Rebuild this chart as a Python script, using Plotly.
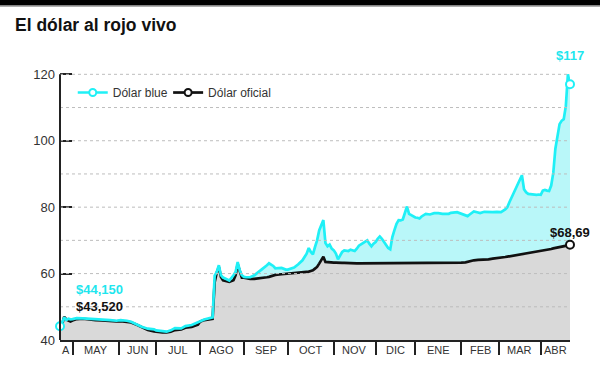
import math
import pandas as pd
import plotly.graph_objects as go

# ---------------- data ----------------
dates = [
    "2019-04-23", "2019-04-24", "2019-04-25", "2019-04-26", "2019-04-29", "2019-04-30",
    "2019-05-02", "2019-05-06", "2019-05-09", "2019-05-14", "2019-05-17", "2019-05-22", "2019-05-28", "2019-05-31",
    "2019-06-04", "2019-06-07", "2019-06-11", "2019-06-14", "2019-06-19", "2019-06-25", "2019-06-28",
    "2019-07-01", "2019-07-04", "2019-07-10", "2019-07-12", "2019-07-16", "2019-07-19", "2019-07-23", "2019-07-26", "2019-07-31",
    "2019-08-01", "2019-08-05", "2019-08-09", "2019-08-12", "2019-08-13", "2019-08-14", "2019-08-15", "2019-08-16",
    "2019-08-20", "2019-08-22", "2019-08-26", "2019-08-27", "2019-08-28", "2019-08-29", "2019-08-30",
    "2019-09-02", "2019-09-03", "2019-09-05", "2019-09-09", "2019-09-11", "2019-09-13", "2019-09-17", "2019-09-18",
    "2019-09-20", "2019-09-23", "2019-09-26", "2019-09-30",
    "2019-10-01", "2019-10-04", "2019-10-08", "2019-10-10", "2019-10-15", "2019-10-16", "2019-10-17", "2019-10-18",
    "2019-10-21", "2019-10-22", "2019-10-23", "2019-10-24", "2019-10-25", "2019-10-28", "2019-10-29", "2019-10-30", "2019-10-31",
    "2019-11-01", "2019-11-04", "2019-11-05", "2019-11-06", "2019-11-07", "2019-11-08", "2019-11-12", "2019-11-13",
    "2019-11-14", "2019-11-15", "2019-11-19", "2019-11-20", "2019-11-21", "2019-11-22", "2019-11-25", "2019-11-26",
    "2019-11-27", "2019-11-28", "2019-11-29",
    "2019-12-02", "2019-12-03", "2019-12-04", "2019-12-05", "2019-12-06", "2019-12-09", "2019-12-10", "2019-12-11",
    "2019-12-12", "2019-12-13", "2019-12-16", "2019-12-17", "2019-12-18", "2019-12-19", "2019-12-20", "2019-12-23",
    "2019-12-26", "2019-12-27", "2019-12-30",
    "2020-01-02", "2020-01-03", "2020-01-06", "2020-01-07", "2020-01-09", "2020-01-13", "2020-01-15", "2020-01-17",
    "2020-01-21", "2020-01-24", "2020-01-27", "2020-01-30",
    "2020-02-03", "2020-02-05", "2020-02-06", "2020-02-07", "2020-02-11", "2020-02-13", "2020-02-14", "2020-02-18",
    "2020-02-20", "2020-02-26", "2020-02-28",
    "2020-03-03", "2020-03-05", "2020-03-06", "2020-03-09", "2020-03-10", "2020-03-11", "2020-03-12", "2020-03-13",
    "2020-03-16", "2020-03-17", "2020-03-18", "2020-03-19", "2020-03-20", "2020-03-25", "2020-03-26", "2020-03-27",
    "2020-03-30", "2020-03-31",
    "2020-04-01", "2020-04-02", "2020-04-03", "2020-04-06", "2020-04-07", "2020-04-08", "2020-04-13", "2020-04-14",
    "2020-04-15", "2020-04-16", "2020-04-17", "2020-04-20", "2020-04-21", "2020-04-22", "2020-04-23",
]

dolar_blue = [
    44.15, 45.2, 46.8, 46.0, 46.4, 46.2,
    46.3, 46.6, 46.5, 46.4, 46.2, 46.3, 46.0, 45.8,
    46.0, 45.8, 45.5, 44.6, 44.0, 43.4, 43.2,
    42.9, 42.6, 42.5, 42.9, 43.6, 43.5, 44.2, 44.5, 45.3,
    45.8, 46.2, 46.8, 59.4, 60.5, 62.5, 59.5, 58.8,
    58.5, 57.9, 59.5, 60.5, 63.5, 61.0, 59.5,
    59.0, 58.9, 58.9, 59.5, 60.4, 61.5, 62.5, 63.1,
    62.3, 61.6, 61.7, 61.2,
    61.2, 61.8, 62.8, 64.0, 66.0, 67.7, 66.5, 65.8,
    68.0, 70.0, 73.0, 74.5, 76.1, 69.2, 68.2, 68.7, 67.5,
    67.0, 66.0, 64.3, 65.5, 66.5, 67.0, 66.8, 67.2,
    67.0, 66.8, 67.5, 68.4, 68.8, 69.2, 69.5, 70.0,
    69.0, 68.2, 69.0,
    69.5, 70.5, 71.2, 70.5, 69.5, 68.5, 67.7, 67.3,
    71.0, 73.1, 75.0, 76.1, 76.0, 76.3, 78.0, 80.2,
    78.0, 77.6, 77.1,
    76.9, 76.8, 76.6, 77.2, 78.0, 77.8, 78.2, 78.2,
    78.0, 78.0, 78.3, 78.5,
    78.0, 77.6, 77.3, 77.8, 78.7, 78.4, 78.2, 78.6,
    78.5, 78.5, 78.6,
    78.5, 79.3, 80.0, 81.5, 82.9, 84.0, 85.5, 86.9,
    88.0, 89.6, 85.4, 84.5, 84.0, 83.9, 83.7, 83.6,
    83.7, 83.8,
    83.7, 85.0, 85.2, 85.0, 84.9, 86.5, 90.3, 97.6,
    101.0, 105.0, 106.0, 106.5, 110.4, 120.0, 117.0,
]

dolar_oficial = [
    43.52, 44.6, 47.0, 46.2, 45.9, 45.6,
    45.9, 46.3, 46.4, 46.1, 46.0, 45.9, 45.7, 45.6,
    45.7, 45.5, 45.3, 44.5, 43.9, 43.0, 42.6,
    42.5, 42.3, 42.3, 42.5, 43.0, 43.2, 43.7, 43.9, 44.6,
    45.5, 46.0, 46.4, 57.4, 60.3, 62.0, 59.0, 58.0,
    57.8, 57.5, 58.0, 59.5, 62.8, 60.5, 58.8,
    58.8, 58.6, 58.4, 58.4, 58.5, 58.7, 58.9, 59.0,
    59.3, 59.6, 59.8, 59.9,
    60.0, 60.1, 60.3, 60.4, 60.5, 60.6, 60.8, 61.0,
    61.5, 62.0, 63.0, 64.0, 65.1, 63.5, 63.4, 63.3, 63.3,
    63.3, 63.3, 63.2, 63.2, 63.2, 63.2, 63.1, 63.1,
    63.1, 63.1, 63.1, 63.1, 63.1, 63.1, 63.1, 63.1,
    63.1, 63.1, 63.1,
    63.1, 63.1, 63.1, 63.1, 63.1, 63.1, 63.1, 63.1,
    63.1, 63.1, 63.1, 63.1, 63.1, 63.1, 63.1, 63.1,
    63.1, 63.1, 63.1,
    63.1, 63.1, 63.1, 63.1, 63.1, 63.1, 63.1, 63.1,
    63.1, 63.1, 63.1, 63.2,
    63.3, 63.4, 63.6, 63.7, 64.0, 64.1, 64.1, 64.2,
    64.3, 64.5, 64.6,
    64.8, 65.0, 65.1, 65.2, 65.3, 65.4, 65.5, 65.6,
    65.8, 65.9, 66.0, 66.1, 66.2, 66.4, 66.5, 66.6,
    66.7, 66.8,
    66.9, 67.0, 67.1, 67.2, 67.3, 67.4, 67.6, 67.7,
    67.8, 67.9, 68.0, 68.2, 68.4, 68.5, 68.69,
]

month_labels = ["A", "MAY", "JUN", "JUL", "AGO", "SEP", "OCT", "NOV", "DIC", "ENE", "FEB", "MAR", "ABR"]
y_ticks = [40, 60, 80, 100, 120]
y_grid = [50, 60, 70, 80, 90, 100, 110, 120]

# market holidays (no trading) — used as axis range breaks
holidays = [
    "2019-05-01", "2019-06-17", "2019-06-20", "2019-07-08", "2019-07-09", "2019-08-19",
    "2019-10-14", "2019-11-18", "2019-12-24", "2019-12-25", "2019-12-31", "2020-01-01",
    "2020-02-24", "2020-02-25", "2020-03-23", "2020-03-24", "2020-04-09", "2020-04-10",
]

label_blue_start = "$44,150"
label_oficial_start = "$43,520"
label_blue_end = "$117"
label_oficial_end = "$68,69"

# ---------------- styling ----------------
CYAN = "#1ff0f6"
CYAN_TXT = "#1fe6ee"
CYAN_FILL = "#b9f7f9"
GRAY_FILL = "#d9d9d9"
BLACK = "#111111"
AXIS = "#222222"
TXT = "#333333"
FONT = "Liberation Sans, Arial, sans-serif"

# trading-day calendar for tick / label placement
hol_set = set(pd.to_datetime(holidays))
td = [d for d in pd.bdate_range(dates[0], dates[-1]) if d not in hol_set]
month_first_idx = []
for i, d in enumerate(td):
    if i > 0 and (d.month != td[i - 1].month):
        month_first_idx.append(i)
month_ticks = [td[i].strftime("%Y-%m-%d") for i in month_first_idx]
bounds = [0] + month_first_idx + [len(td) - 1]


def idx_to_date(f):
    i = int(math.floor(f))
    frac = f - i
    if i >= len(td) - 1:
        return td[-1].strftime("%Y-%m-%d %H:%M")
    return (td[i] + pd.Timedelta(days=frac)).strftime("%Y-%m-%d %H:%M")


label_pos = [idx_to_date((bounds[k] + bounds[k + 1]) / 2) for k in range(len(bounds) - 1)]

fig = go.Figure()

fig.add_trace(go.Scatter(
    x=dates, y=dolar_oficial, mode="lines", name="Dólar oficial",
    line=dict(color=BLACK, width=2.7), fill="tozeroy", fillcolor=GRAY_FILL,
    showlegend=False, hoverinfo="skip",
))
fig.add_trace(go.Scatter(
    x=dates, y=dolar_blue, mode="lines", name="Dólar blue",
    line=dict(color=CYAN, width=2.7), fill="tonexty", fillcolor=CYAN_FILL,
    showlegend=False, hoverinfo="skip",
))

# endpoint markers
fig.add_trace(go.Scatter(
    x=[dates[0], dates[-1]], y=[dolar_blue[0], dolar_blue[-1]], mode="markers",
    marker=dict(symbol="circle", size=8, color="white", line=dict(color=CYAN, width=2)),
    showlegend=False, cliponaxis=False, hoverinfo="skip",
))
fig.add_trace(go.Scatter(
    x=[dates[-1]], y=[dolar_oficial[-1]], mode="markers",
    marker=dict(symbol="circle", size=8, color="white", line=dict(color=BLACK, width=2)),
    showlegend=False, cliponaxis=False, hoverinfo="skip",
))

# legend entries
fig.add_trace(go.Scatter(
    x=[None], y=[None], mode="lines+markers", name="Dólar blue", legend="legend",
    line=dict(color=CYAN, width=2.7),
    marker=dict(symbol="circle", size=7, color="white", line=dict(color=CYAN, width=2)),
))
fig.add_trace(go.Scatter(
    x=[None], y=[None], mode="lines+markers", name="Dólar oficial", legend="legend2",
    line=dict(color=BLACK, width=2.7),
    marker=dict(symbol="circle", size=7, color="white", line=dict(color=BLACK, width=2)),
))

shapes = []
# dotted grid lines drawn above the fills
for g in y_grid:
    shapes.append(dict(type="line", xref="paper", x0=0, x1=1, yref="y", y0=g, y1=g,
                       line=dict(color="#bdbdbd", width=1, dash="dot"), layer="above"))
# y axis line
shapes.append(dict(type="line", xref="paper", x0=0, x1=0, yref="y", y0=40, y1=120,
                   line=dict(color=AXIS, width=2), layer="above"))
# top black bar
shapes.append(dict(type="rect", xref="paper", x0=-0.2, x1=1.2, yref="paper", y0=1.2436, y1=1.32,
                   fillcolor="#000000", line=dict(width=0), layer="above"))
shapes.append(dict(type="line", xref="paper", x0=-0.2, x1=1.2, yref="paper", y0=1.2405, y1=1.2405,
                   line=dict(color="#9a9a9a", width=1), layer="above"))

annotations = []
for lab, pos in zip(month_labels, label_pos):
    annotations.append(dict(x=pos, y=-0.037, xref="x", yref="paper", text=lab, showarrow=False,
                            xanchor="center", yanchor="middle", font=dict(size=11, color=TXT, family=FONT)))

annotations += [
    dict(x=dates[-1], y=dolar_blue[-1], xref="x", yref="y", text=label_blue_end, showarrow=False,
         xanchor="center", yanchor="middle", yshift=29, font=dict(size=13, color=CYAN_TXT, family=FONT, weight="bold")),
    dict(x=dates[-1], y=dolar_oficial[-1], xref="x", yref="y", text=label_oficial_end, showarrow=False,
         xanchor="center", yanchor="middle", yshift=12, font=dict(size=13, color=BLACK, family=FONT, weight="bold")),
    dict(x=dates[0], y=dolar_blue[0], xref="x", yref="y", text=label_blue_start, showarrow=False,
         xanchor="left", yanchor="middle", xshift=14, yshift=37, font=dict(size=13, color=CYAN_TXT, family=FONT, weight="bold")),
    dict(x=dates[0], y=dolar_oficial[0], xref="x", yref="y", text=label_oficial_start, showarrow=False,
         xanchor="left", yanchor="middle", xshift=14, yshift=22, font=dict(size=13, color=BLACK, family=FONT, weight="bold")),
]

legend_style = dict(orientation="h", xanchor="left", y=0.92, yanchor="middle",
                    bgcolor="rgba(0,0,0,0)", font=dict(size=12, color=TXT, family=FONT), itemclick=False)

fig.update_layout(
    width=600, height=365,
    margin=dict(l=60, r=30, t=71, b=19),
    paper_bgcolor="white", plot_bgcolor="white",
    font=dict(family=FONT, color=TXT),
    title=dict(text="<b>El dólar al rojo vivo</b>", x=0.025, xanchor="left", xref="container",
               y=1 - 25 / 365, yanchor="middle", yref="container",
               font=dict(size=17.5, color="#111111", family=FONT)),
    showlegend=True,
    legend=dict(x=0.025, **legend_style),
    legend2=dict(x=0.212, **legend_style),
    shapes=shapes,
    annotations=annotations,
)

fig.update_xaxes(
    type="date", range=[dates[0], dates[-1]],
    rangebreaks=[dict(bounds=["sat", "mon"]), dict(values=holidays)],
    tickmode="array", tickvals=month_ticks, showticklabels=False,
    ticks="outside", ticklen=13, tickwidth=2, tickcolor=AXIS,
    showline=True, linecolor=AXIS, linewidth=2, showgrid=False, zeroline=False,
    fixedrange=True,
)
fig.update_yaxes(
    range=[40, 121], tickmode="array", tickvals=y_ticks,
    ticks="inside", ticklen=12, tickwidth=2, tickcolor=AXIS,
    tickfont=dict(size=13, color=TXT, family=FONT), ticklabelstandoff=4,
    showline=False, showgrid=False, zeroline=False, fixedrange=True,
)

fig.write_html(
    "out.html",
    config={"displayModeBar": False},
    post_script="document.body.style.margin='0';document.body.style.overflow='hidden';",
)
